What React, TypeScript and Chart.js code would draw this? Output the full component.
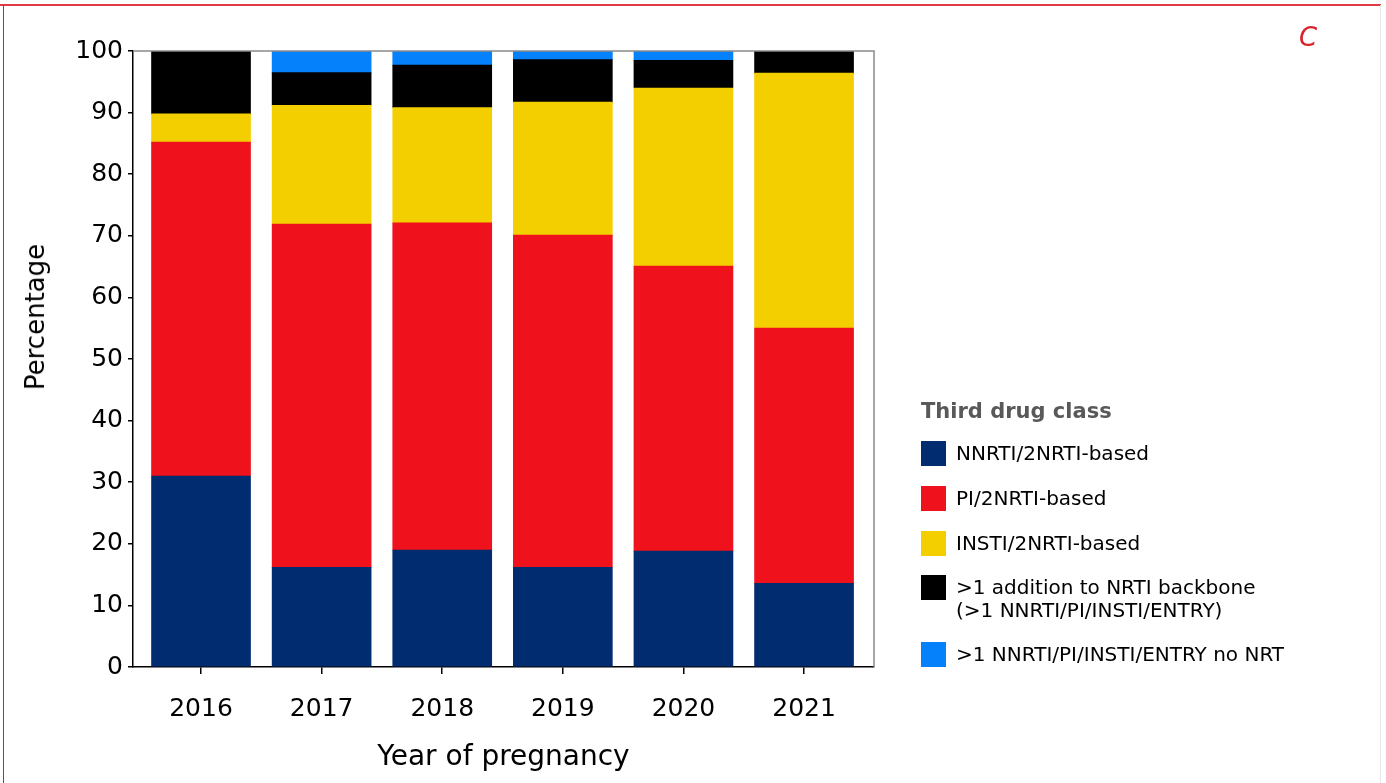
import React, { useEffect, useRef } from "react";
import { Chart, registerables } from "chart.js";

Chart.register(...registerables);

const years = ["2016", "2017", "2018", "2019", "2020", "2021"];
const nnrti = [31.0, 16.2, 19.0, 16.2, 18.8, 13.6];
const pi = [54.2, 55.7, 53.1, 53.9, 46.3, 41.4];
const insti = [4.6, 19.3, 18.7, 21.6, 28.9, 41.4];
const multi = [10.2, 5.3, 6.9, 6.9, 4.5, 3.6];
const noNrt = [0, 3.5, 2.3, 1.4, 1.5, 0];
const yTicks = [0, 10, 20, 30, 40, 50, 60, 70, 80, 90, 100];

const seriesLabels = [
  "NNRTI/2NRTI-based",
  "PI/2NRTI-based",
  "INSTI/2NRTI-based",
  ">1 addition to NRTI backbone (>1 NNRTI/PI/INSTI/ENTRY)",
  ">1 NNRTI/PI/INSTI/ENTRY no NRT",
];
const seriesColors = ["#022c70", "#ef111b", "#f4cf00", "#000000", "#0581fb"];
const seriesValues = [nnrti, pi, insti, multi, noNrt];

const FONT = "'DejaVu Sans', Verdana, sans-serif";

const framePlugin = {
  id: "frame",
  afterDraw(chart: any) {
    const { ctx, chartArea } = chart;
    ctx.save();
    ctx.strokeStyle = "#8a8a8a";
    ctx.lineWidth = 1.5;
    ctx.beginPath();
    ctx.moveTo(chartArea.left, chartArea.top);
    ctx.lineTo(chartArea.right, chartArea.top);
    ctx.lineTo(chartArea.right, chartArea.bottom);
    ctx.stroke();
    ctx.restore();
  },
};

export default function App() {
  const ref = useRef<HTMLCanvasElement | null>(null);

  useEffect(() => {
    if (!ref.current) return;
    const chart = new Chart(ref.current, {
      type: "bar",
      data: {
        datasets: seriesLabels.map((label, k) => ({
          label,
          data: seriesValues[k].map((v, i) => ({ x: i, y: v })),
          backgroundColor: seriesColors[k],
          borderWidth: 0,
          barThickness: 99,
        })),
      },
      options: {
        responsive: false,
        animation: false,
        layout: { padding: { top: 51, right: 512, left: 0, bottom: 0 } },
        plugins: {
          legend: { display: false },
          tooltip: { enabled: false },
        },
        scales: {
          x: {
            type: "linear",
            min: -0.564,
            max: 5.58,
            offset: false,
            stacked: true,
            afterFit: (s: any) => {
              s.height = 116;
            },
            afterBuildTicks: (s: any) => {
              s.ticks = years.map((_, i) => ({ value: i }));
            },
            ticks: {
              callback: (v: any) => years[v] ?? "",
              font: { family: FONT, size: 25 },
              color: "#000",
              padding: 20,
              autoSkip: false,
              maxRotation: 0,
            },
            grid: {
              offset: false,
              drawOnChartArea: false,
              tickLength: 7,
              color: "#000",
              lineWidth: 1.5,
            },
            border: { color: "#000", width: 1.5 },
            title: {
              display: true,
              text: "Year of pregnancy",
              font: { family: FONT, size: 28 },
              color: "#000",
              padding: { top: 0, bottom: 8 },
            },
          },
          y: {
            min: 0,
            max: 100,
            stacked: true,
            afterFit: (s: any) => {
              s.width = 133;
            },
            afterBuildTicks: (s: any) => {
              s.ticks = yTicks.map((v) => ({ value: v }));
            },
            ticks: {
              font: { family: FONT, size: 25 },
              color: "#000",
              padding: 5,
            },
            grid: {
              drawOnChartArea: false,
              tickLength: 5,
              color: "#000",
              lineWidth: 1.5,
            },
            border: { color: "#000", width: 1.5 },
            title: { display: false },
          },
        },
      } as any,
      plugins: [framePlugin],
    });
    return () => chart.destroy();
  }, []);

  const legendTops = [441, 486, 531, 575, 642];

  return (
    <div
      style={{
        position: "fixed",
        left: 0,
        top: 0,
        width: 1386,
        height: 783,
        background: "#fff",
        overflow: "hidden",
        fontFamily: FONT,
      }}
    >
      <canvas
        ref={ref}
        width={1386}
        height={783}
        style={{ position: "absolute", left: 0, top: 0 }}
      />
      <div style={{ position: "absolute", left: 0, top: 4, width: 1381, height: 2, background: "#e03a44" }} />
      <div style={{ position: "absolute", left: 3, top: 5, width: 1, height: 778, background: "#555" }} />
      <div style={{ position: "absolute", left: 1380, top: 5, width: 1, height: 778, background: "#e6e6e6" }} />
      <div
        style={{
          position: "absolute",
          left: 35,
          top: 317,
          transform: "translate(-50%, -50%) rotate(-90deg)",
          fontSize: 26,
          lineHeight: "30px",
          color: "#000",
          whiteSpace: "nowrap",
        }}
      >
        Percentage
      </div>
      <div
        style={{
          position: "absolute",
          left: 1299,
          top: 20,
          fontSize: 26,
          fontStyle: "italic",
          color: "#d8232a",
          lineHeight: "34px",
        }}
      >
        C
      </div>
      <div
        style={{
          position: "absolute",
          left: 921,
          top: 398,
          fontSize: 21,
          fontWeight: "bold",
          color: "#595959",
          lineHeight: "26px",
          whiteSpace: "nowrap",
        }}
      >
        Third drug class
      </div>
      {seriesLabels.map((label, k) => {
        const lines =
          k === 3 ? [">1 addition to NRTI backbone", "(>1 NNRTI/PI/INSTI/ENTRY)"] : [label];
        return (
          <div key={label}>
            <div
              style={{
                position: "absolute",
                left: 921,
                top: legendTops[k],
                width: 25,
                height: 25,
                background: seriesColors[k],
              }}
            />
            <div
              style={{
                position: "absolute",
                left: 956,
                top: legendTops[k] + 0.5,
                fontSize: 20,
                lineHeight: "23px",
                color: "#000",
                whiteSpace: "nowrap",
              }}
            >
              {lines.map((l) => (
                <div key={l}>{l}</div>
              ))}
            </div>
          </div>
        );
      })}
    </div>
  );
}
